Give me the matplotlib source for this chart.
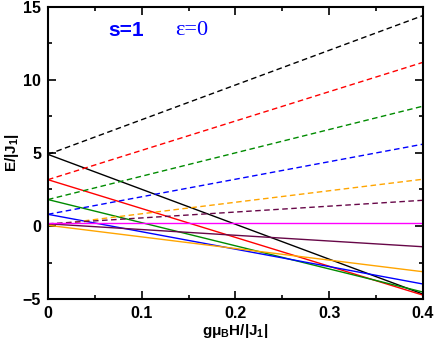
import matplotlib.pyplot as plt
from matplotlib.ticker import MultipleLocator

# field values (start, end)
H = [0.0, 0.4]

colors = ['black', 'red', '#008b00', 'blue', '#ffa500', '#670748', '#ff00ff']
E0 = [4.9, 3.17, 1.81, 0.8, 0.05, 0.15, 0.2]      # energies at H=0
E_up = [14.4, 11.2, 8.2, 5.6, 3.2, 1.76, None]   # dashed branches at H=0.4
E_down = [-4.66, -4.73, -4.52, -3.97, -3.13, -1.42, 0.2]  # solid branches at H=0.4

plt.rcParams['font.family'] = 'Liberation Sans'
plt.rcParams['font.weight'] = 'bold'
plt.rcParams['mathtext.fontset'] = 'custom'
plt.rcParams['mathtext.rm'] = 'Liberation Sans:bold'
plt.rcParams['mathtext.it'] = 'Liberation Sans:bold'
plt.rcParams['mathtext.bf'] = 'Liberation Sans:bold'

fig = plt.figure(figsize=(4.36, 3.41), dpi=100)
ax = fig.add_axes([0.110, 0.123, 0.860, 0.857])

for c, e0, eu, ed in zip(colors, E0, E_up, E_down):
	if eu is not None:
		ax.plot(H, [e0, eu], color=c, lw=1.0, dashes=(4, 2.5))
	ax.plot(H, [e0, ed], color=c, lw=1.0)

ax.set_xlim(0, 0.4)
ax.set_ylim(-5, 15)
ax.xaxis.set_major_locator(MultipleLocator(0.1))
ax.xaxis.set_minor_locator(MultipleLocator(0.05))
ax.yaxis.set_major_locator(MultipleLocator(5))
ax.yaxis.set_minor_locator(MultipleLocator(2.5))
ax.set_xticks([0, 0.1, 0.2, 0.3, 0.4])
ax.set_xticklabels(['0', '0.1', '0.2', '0.3', '0.4'])
ax.tick_params(which='both', direction='in', top=True, right=True, width=1.2, labelsize=11.5)
ax.tick_params(which='major', length=6, pad=5)
ax.tick_params(which='minor', length=3)
for s in ax.spines.values():
	s.set_linewidth(1.5)

ax.set_xlabel(r'g$\mu_B$H/|J$_1$|', fontsize=11, fontweight='bold', labelpad=1)
ax.set_ylabel(r'E/|J$_1$|', fontsize=11, fontweight='bold')
ax.yaxis.set_label_coords(-0.072, 0.5)

ax.text(0.16, 0.92, 's=1', transform=ax.transAxes, color='blue', fontsize=15,
	fontweight='bold', va='center')
ax.text(0.34, 0.92, 'ε=0', transform=ax.transAxes, color='blue', fontsize=16,
	family='Liberation Serif', fontweight='normal', va='center')

fig.savefig('out.png', dpi=100)
